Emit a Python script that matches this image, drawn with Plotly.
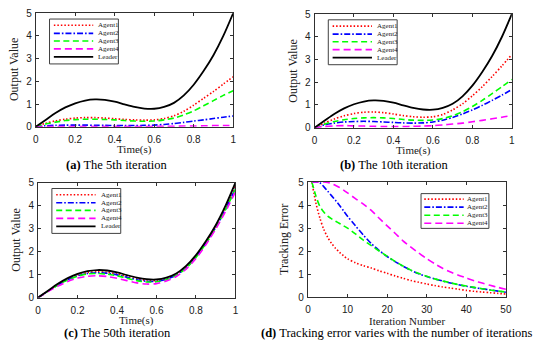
import plotly.graph_objects as go

# ---------------- data ----------------
t = [0.00, 0.05, 0.10, 0.15, 0.20, 0.25, 0.30, 0.35, 0.40, 0.45, 0.50,
     0.55, 0.60, 0.65, 0.70, 0.75, 0.80, 0.85, 0.90, 0.95, 1.00]

leader = [0, 0.30, 0.60, 0.85, 1.03, 1.15, 1.20, 1.18, 1.10, 0.98, 0.87,
          0.80, 0.79, 0.87, 1.05, 1.38, 1.85, 2.45, 3.15, 4.00, 5.00]

# (a) 5th iteration
it5_agent1 = [0, 0.15, 0.26, 0.33, 0.38, 0.40, 0.40, 0.38, 0.35, 0.32, 0.30,
              0.29, 0.30, 0.36, 0.48, 0.68, 0.95, 1.25, 1.55, 1.88, 2.20]
it5_agent2 = [0, 0.04, 0.06, 0.07, 0.07, 0.07, 0.06, 0.06, 0.05, 0.05, 0.05,
              0.06, 0.07, 0.10, 0.14, 0.19, 0.25, 0.30, 0.36, 0.42, 0.47]
it5_agent3 = [0, 0.12, 0.20, 0.27, 0.31, 0.33, 0.33, 0.32, 0.30, 0.27, 0.25,
              0.24, 0.25, 0.30, 0.38, 0.52, 0.70, 0.92, 1.15, 1.38, 1.58]
it5_agent4 = [0, 0.01, 0.01, 0.01, 0.01, 0.01, 0.01, 0.01, 0.01, 0.01, 0.01,
              0.01, 0.01, 0.02, 0.02, 0.03, 0.03, 0.04, 0.05, 0.05, 0.06]

# (b) 10th iteration
it10_agent1 = [0, 0.20, 0.38, 0.52, 0.62, 0.68, 0.69, 0.66, 0.60, 0.53, 0.48,
               0.46, 0.48, 0.58, 0.78, 1.05, 1.40, 1.80, 2.25, 2.72, 3.22]
it10_agent2 = [0, 0.12, 0.20, 0.25, 0.27, 0.28, 0.27, 0.25, 0.23, 0.21, 0.20,
               0.21, 0.25, 0.33, 0.45, 0.60, 0.78, 0.98, 1.20, 1.43, 1.68]
it10_agent3 = [0, 0.15, 0.27, 0.35, 0.40, 0.43, 0.44, 0.43, 0.40, 0.36, 0.33,
               0.32, 0.34, 0.40, 0.52, 0.70, 0.93, 1.20, 1.50, 1.80, 2.12]
it10_agent4 = [0, 0.05, 0.08, 0.09, 0.08, 0.07, 0.06, 0.05, 0.05, 0.05, 0.06,
               0.07, 0.09, 0.12, 0.16, 0.20, 0.26, 0.32, 0.39, 0.46, 0.54]

# (c) 50th iteration
it50_agent1 = [0, 0.29, 0.57, 0.80, 0.98, 1.09, 1.12, 1.10, 1.03, 0.92, 0.82,
               0.75, 0.74, 0.82, 1.00, 1.32, 1.80, 2.40, 3.10, 3.92, 4.85]
it50_agent2 = [0, 0.28, 0.55, 0.78, 0.95, 1.05, 1.08, 1.06, 0.99, 0.88, 0.78,
               0.71, 0.71, 0.80, 0.98, 1.30, 1.77, 2.37, 3.05, 3.85, 4.75]
it50_agent3 = [0, 0.28, 0.55, 0.77, 0.93, 1.03, 1.05, 1.02, 0.95, 0.84, 0.74,
               0.68, 0.69, 0.78, 0.97, 1.28, 1.75, 2.35, 3.03, 3.83, 4.72]
it50_agent4 = [0, 0.26, 0.50, 0.70, 0.85, 0.93, 0.95, 0.92, 0.84, 0.74, 0.64,
               0.59, 0.61, 0.72, 0.92, 1.24, 1.70, 2.30, 2.98, 3.75, 4.60]

# (d) tracking error vs iteration number
iterations = [1, 2, 3, 4, 5, 6, 7, 8, 9, 10, 12, 14, 16, 18, 20, 22, 24, 26,
              28, 30, 32, 34, 36, 38, 40, 42, 44, 46, 48, 50]
err_agent1 = [5.00, 4.10, 3.45, 2.95, 2.60, 2.33, 2.12, 1.95, 1.80, 1.67,
              1.50, 1.37, 1.27, 1.15, 1.04, 0.93, 0.83, 0.73, 0.65, 0.58,
              0.51, 0.45, 0.40, 0.35, 0.30, 0.26, 0.23, 0.20, 0.17, 0.14]
err_agent2 = [5.00, 5.00, 4.97, 4.80, 4.60, 4.40, 4.20, 3.98, 3.75, 3.52,
              3.10, 2.70, 2.33, 2.03, 1.77, 1.55, 1.35, 1.17, 1.02, 0.90,
              0.80, 0.71, 0.62, 0.55, 0.48, 0.42, 0.37, 0.32, 0.27, 0.22]
err_agent3 = [5.00, 4.40, 3.95, 3.70, 3.52, 3.40, 3.30, 3.20, 3.10, 3.00,
              2.75, 2.48, 2.24, 2.01, 1.78, 1.56, 1.36, 1.18, 1.03, 0.91,
              0.80, 0.71, 0.63, 0.55, 0.49, 0.43, 0.37, 0.32, 0.27, 0.23]
err_agent4 = [5.00, 5.00, 5.00, 5.00, 4.98, 4.93, 4.85, 4.76, 4.65, 4.53,
              4.28, 4.04, 3.77, 3.43, 3.10, 2.78, 2.45, 2.18, 1.92, 1.68,
              1.46, 1.26, 1.10, 0.96, 0.84, 0.72, 0.62, 0.52, 0.43, 0.35]

time_ticks = [0, 0.2, 0.4, 0.6, 0.8, 1]
time_tick_labels = ["0", "0.2", "0.4", "0.6", "0.8", "1"]
iter_ticks = [0, 10, 20, 30, 40, 50]
value_ticks = [0, 1, 2, 3, 4, 5]

names = ["Agent1", "Agent2", "Agent3", "Agent4", "Leader"]
captions = ["<b>(a)</b> The 5th iteration", "<b>(b)</b> The 10th iteration",
            "<b>(c)</b> The 50th iteration",
            "<b>(d)</b> Tracking error varies with the number of iterations"]

# ---------------- styles ----------------
W, H = 550, 349
styles = {
    "Agent1": dict(color="#FF0000", dash="1.5px,2px", width=1.6),
    "Agent2": dict(color="#0000FF", dash="6px,2px,1.6px,2px", width=1.6),
    "Agent3": dict(color="#00FF00", dash="6px,3.5px", width=1.6),
    "Agent4": dict(color="#FF00FF", dash="7px,4px", width=1.6),
    "Leader": dict(color="#000000", dash="solid", width=1.8),
}
SERIF = "Liberation Serif"
SANS = "Liberation Sans"
AXC = "#303030"

def px(x):
    return x / W

def py(y):
    return 1 - y / H

# plot boxes in pixels (left, right, top, bottom)
boxes = [(33.3, 234.0, 7.5, 125.0),
         (316.7, 517.3, 8.3, 126.0),
         (35.7, 236.3, 183.0, 302.0),
         (310.0, 511.3, 182.3, 301.7)]

fig = go.Figure()

panels = [
    (t, [it5_agent1, it5_agent2, it5_agent3, it5_agent4, leader]),
    (t, [it10_agent1, it10_agent2, it10_agent3, it10_agent4, leader]),
    (t, [it50_agent1, it50_agent2, it50_agent3, it50_agent4, leader]),
    (iterations, [err_agent1, err_agent2, err_agent3, err_agent4]),
]

shapes = []
annotations = []

for i, (xs, series) in enumerate(panels):
    k = "" if i == 0 else str(i + 1)
    for name, ys in zip(names, series):
        st = styles[name]
        fig.add_trace(go.Scatter(
            x=xs, y=ys, mode="lines", name=name, showlegend=False,
            line=dict(color=st["color"], dash=st["dash"], width=st["width"],
                      shape="spline", smoothing=0.8),
            xaxis="x" + k, yaxis="y" + k))

    l, r, tp, b = boxes[i]
    is_d = (i == 3)
    fig.layout["xaxis" + k] = dict(
        domain=[px(l), px(r)], anchor="y" + k,
        range=[0, 50] if is_d else [0, 1],
        tickvals=iter_ticks if is_d else time_ticks,
        ticktext=[str(v) for v in iter_ticks] if is_d else time_tick_labels,
        ticks="inside", ticklen=3, tickwidth=1, tickcolor=AXC,
        ticklabelstandoff=3,
        showline=True, linecolor=AXC, linewidth=1, mirror="ticks",
        showgrid=False, zeroline=False,
        tickfont=dict(family=SANS, size=10, color="#202020"))
    fig.layout["yaxis" + k] = dict(
        domain=[py(b), py(tp)], anchor="x" + k,
        range=[0, 5], tickvals=value_ticks,
        ticks="inside", ticklen=3, tickwidth=1, tickcolor=AXC,
        ticklabelstandoff=1,
        showline=True, linecolor=AXC, linewidth=1, mirror="ticks",
        showgrid=False, zeroline=False,
        tickfont=dict(family=SANS, size=10, color="#202020"))

    # axis titles
    annotations.append(dict(
        x=px((l + r) / 2), y=py(b + 24), xref="paper", yref="paper",
        text="Iteration Number" if is_d else "Time(s)", showarrow=False,
        font=dict(family=SERIF, size=11, color="#202020"),
        xanchor="center", yanchor="middle"))
    annotations.append(dict(
        x=px(l - (25 if is_d else 22)), y=py((tp + b) / 2),
        xref="paper", yref="paper",
        text="Tracking Error" if is_d else "Output Value", showarrow=False,
        textangle=-90, font=dict(family=SERIF, size=12, color="#202020"),
        xanchor="center", yanchor="middle"))

    # manual legend (MATLAB style box)
    if is_d:
        bx0, bx1, by0, by1 = l + 115, l + 184, tp + 12, tp + 48
        lx0, lx1, tx = l + 118.3, l + 158.3, l + 160
        rows = [tp + 17.7, tp + 26.0, tp + 34.4, tp + 42.7]
        entries = names[:4]
    else:
        bx0, bx1, by0, by1 = l + 14, l + 84, tp + 6, tp + 52.5
        lx0, lx1, tx = l + 18.4, l + 58.4, l + 61.5
        rows = [tp + 12.5, tp + 20.8, tp + 28.7, tp + 36.9, tp + 45.2]
        entries = names
    shapes.append(dict(type="rect", xref="paper", yref="paper",
                       x0=px(bx0), x1=px(bx1), y0=py(by1), y1=py(by0),
                       line=dict(color="#404040", width=1),
                       fillcolor="white", layer="above"))
    for name, ry in zip(entries, rows):
        st = styles[name]
        shapes.append(dict(type="line", xref="paper", yref="paper",
                           x0=px(lx0), x1=px(lx1), y0=py(ry), y1=py(ry),
                           line=dict(color=st["color"], dash=st["dash"],
                                     width=st["width"]),
                           layer="above"))
        annotations.append(dict(
            x=px(tx), y=py(ry), xref="paper", yref="paper", text=name,
            showarrow=False, xanchor="left", yanchor="middle",
            font=dict(family=SERIF, size=7, color="#202020")))

# captions
cap_pos = [(116, 164.3, "center"), (398, 164.5, "center"),
           (116, 338.3, "center"), (260, 338.3, "left")]
for (cx, cy, anc), txt in zip(cap_pos, captions):
    annotations.append(dict(
        x=px(cx), y=py(cy), xref="paper", yref="paper", text=txt,
        showarrow=False, xanchor=anc, yanchor="middle",
        font=dict(family=SERIF, size=12.5, color="black")))

fig.update_layout(
    width=W, height=H,
    margin=dict(l=0, r=0, t=0, b=0),
    paper_bgcolor="white", plot_bgcolor="white",
    showlegend=False, hovermode=False,
    shapes=shapes, annotations=annotations)

fig.write_html("out.html",
               config={"displayModeBar": False, "staticPlot": True},
               post_script="document.body.style.margin='0px';"
                           "document.body.style.overflow='hidden';")
